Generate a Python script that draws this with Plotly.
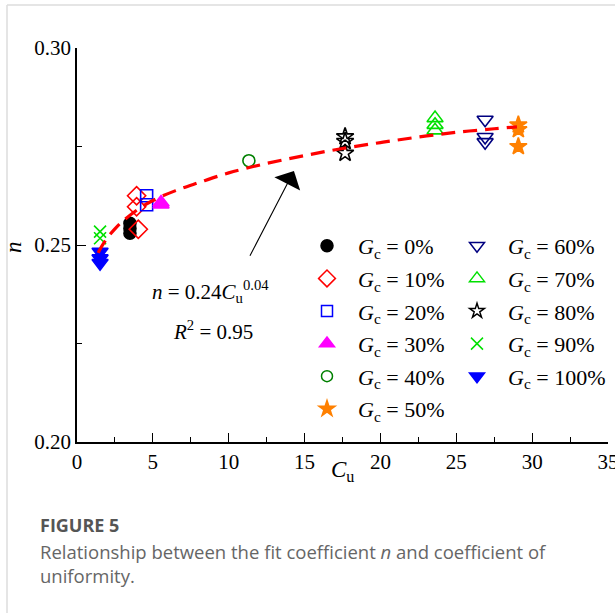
import plotly.graph_objects as go

# ---------------- data ----------------
cu_gc0 = [3.49, 3.49, 3.49]
n_gc0 = [0.2555, 0.2542, 0.2530]
cu_gc10 = [3.93, 3.93, 4.04]
n_gc10 = [0.2625, 0.2597, 0.2540]
cu_gc20 = [4.59, 4.59]
n_gc20 = [0.2625, 0.2602]
cu_gc30 = [5.54, 5.54]
n_gc30 = [0.2608, 0.2603]
cu_gc40 = [11.33]
n_gc40 = [0.2714]
cu_gc50 = [29.09, 29.09, 29.09]
n_gc50 = [0.2805, 0.2793, 0.2750]
cu_gc60 = [26.9, 26.9, 26.9]
n_gc60 = [0.2818, 0.2774, 0.2761]
cu_gc70 = [23.6, 23.6, 23.6]
n_gc70 = [0.2822, 0.2805, 0.2791]
cu_gc80 = [17.67, 17.67, 17.67]
n_gc80 = [0.2775, 0.2763, 0.2733]
cu_gc90 = [1.52, 1.52]
n_gc90 = [0.2534, 0.2517]
cu_gc100 = [1.52, 1.52, 1.52]
n_gc100 = [0.2483, 0.2466, 0.2454]

# fitted curve, points
fit_cu = [1.4, 1.5, 2.0, 2.5, 3.0, 4.0, 5.0, 6.5, 8.0, 10.0, 12.5, 15.0, 17.5, 20.0, 22.5, 25.0, 27.5, 29.0]
fit_n = [0.2480, 0.2488, 0.2518, 0.2541, 0.2560, 0.2590, 0.2613, 0.2638, 0.2658, 0.2683,
         0.2707, 0.2727, 0.2745, 0.2760, 0.2774, 0.2786, 0.2795, 0.2800]

gc_labels = ["0%", "10%", "20%", "30%", "40%", "50%", "60%", "70%", "80%", "90%", "100%"]
x_ticks = [0, 5, 10, 15, 20, 25, 30, 35]
y_ticks = [0.20, 0.25, 0.30]

# ---------------- layout helpers ----------------
W, H = 615, 613
L, R, T, B = 77, 7, 48, 171
PW, PH = W - L - R, H - T - B


def px_x(px):
    return (px - L) / PW


def px_y(py):
    return (H - B - py) / PH


SERIF = "Liberation Serif, Times New Roman, serif"

styles = [
    dict(symbol="circle", color="#000000", size=12, lsize=12),
    dict(symbol="diamond-open", color="#FF0000", size=14, lsize=13),
    dict(symbol="square-open", color="#0000FF", size=12, lsize=11),
    dict(symbol="triangle-up", color="#FF00FF", size=14, lsize=13),
    dict(symbol="circle-open", color="#008000", size=12, lsize=11),
    dict(symbol="star", color="#FF8000", size=13, lsize=12),
    dict(symbol="triangle-down-open", color="#000080", size=14, lsize=13),
    dict(symbol="triangle-up-open", color="#00E000", size=14, lsize=13),
    dict(symbol="star-open", color="#000000", size=13, lsize=11),
    dict(symbol="x-thin-open", color="#00E000", size=12, lsize=12),
    dict(symbol="triangle-down", color="#0000FF", size=14, lsize=13),
]

series_x = [cu_gc0, cu_gc10, cu_gc20, cu_gc30, cu_gc40, cu_gc50,
            cu_gc60, cu_gc70, cu_gc80, cu_gc90, cu_gc100]
series_y = [n_gc0, n_gc10, n_gc20, n_gc30, n_gc40, n_gc50,
            n_gc60, n_gc70, n_gc80, n_gc90, n_gc100]

fig = go.Figure()

for i, (xs, ys, st, lab) in enumerate(zip(series_x, series_y, styles, gc_labels)):
    fig.add_trace(go.Scatter(
        x=xs, y=ys, mode="markers", showlegend=False,
        name="Gc = " + lab, legendgroup="g%d" % i,
        marker=dict(symbol=st["symbol"], color=st["color"], size=st["size"],
                    line=dict(color=st["color"], width=1.6)),
    ))

fig.add_trace(go.Scatter(
    x=fit_cu, y=fit_n, mode="lines", line_shape="spline", showlegend=False,
    line=dict(color="#FF0000", width=3.2, dash="14px,8px"),
))

# legend keys (smaller symbols, as in the reference legend)
for i, (st, lab) in enumerate(zip(styles, gc_labels)):
    fig.add_trace(go.Scatter(
        x=[None], y=[None], mode="markers",
        name="\u00a0\u00a0<i>G</i><sub>c</sub> = " + lab,
        legend="legend" if i < 6 else "legend2",
        legendgroup="g%d" % i,
        marker=dict(symbol=st["symbol"], color=st["color"], size=st["lsize"],
                    line=dict(color=st["color"], width=1.5)),
    ))

annotations = [
    dict(x=14.3, y=0.2688, ax=11.35, ay=0.2469, xref="x", yref="y", axref="x", ayref="y",
         showarrow=True, arrowhead=1, arrowsize=4.4, arrowwidth=1.1, arrowcolor="#000000", text=""),
    dict(x=8.8, y=0.2383, xref="x", yref="y", showarrow=False,
         text="<i>n</i> = 0.24<i>C</i><sub>u</sub><sup>0.04</sup>",
         font=dict(family=SERIF, size=21, color="#000000")),
    dict(x=8.97, y=0.2284, xref="x", yref="y", showarrow=False,
         text="<i>R</i><sup>2</sup> = 0.95",
         font=dict(family=SERIF, size=21, color="#000000")),
    dict(x=0.5, y=px_y(471), xref="paper", yref="paper", xanchor="center", yanchor="middle",
         showarrow=False, text="<i>C</i><sub>u</sub>",
         font=dict(family=SERIF, size=23, color="#000000")),
    dict(x=px_x(13), y=px_y(247), xref="paper", yref="paper", xanchor="center", yanchor="middle",
         showarrow=False, text="<i>n</i>", textangle=-90,
         font=dict(family=SERIF, size=23, color="#000000")),
    dict(x=px_x(38), y=px_y(525), xref="paper", yref="paper", xanchor="left", yanchor="middle",
         showarrow=False, text="<b>FIGURE 5</b>",
         font=dict(family="Open Sans", size=18, color="#555555")),
    dict(x=px_x(38), y=px_y(551), xref="paper", yref="paper", xanchor="left", yanchor="middle",
         showarrow=False, text="Relationship between the fit coefficient <i>n</i> and coefficient of",
         font=dict(family="Open Sans", size=18.5, color="#666666")),
    dict(x=px_x(38), y=px_y(575), xref="paper", yref="paper", xanchor="left", yanchor="middle",
         showarrow=False, text="uniformity.",
         font=dict(family="Open Sans", size=18.5, color="#666666")),
]

shapes = [
    dict(type="line", xref="paper", yref="paper", x0=px_x(7), x1=px_x(615), y0=px_y(5), y1=px_y(5),
         line=dict(color="#DDDDDD", width=1.5)),
    dict(type="line", xref="paper", yref="paper", x0=px_x(7), x1=px_x(7), y0=px_y(5), y1=px_y(613),
         line=dict(color="#DDDDDD", width=1.5)),
]

legend_common = dict(
    xref="container", yref="container", xanchor="left", yanchor="top",
    font=dict(family=SERIF, size=22, color="#000000"),
    bgcolor="rgba(0,0,0,0)", borderwidth=0, tracegroupgap=1, itemwidth=30,
)

fig.update_layout(
    width=W, height=H,
    margin=dict(l=L, r=R, t=T, b=B, autoexpand=False),
    paper_bgcolor="white", plot_bgcolor="white",
    font=dict(family=SERIF, size=21, color="#000000"),
    showlegend=True,
    legend=dict(x=307 / W, y=1 - 225 / H, **legend_common),
    legend2=dict(x=457 / W, y=1 - 225 / H, **legend_common),
    annotations=annotations,
    shapes=shapes,
    xaxis=dict(
        range=[0, 35], tickvals=x_ticks, ticktext=[str(v) for v in x_ticks],
        showgrid=False, zeroline=False, showline=True, linecolor="#000000", linewidth=1.5,
        ticks="inside", ticklen=9, tickwidth=1.3, tickcolor="#000000",
        minor=dict(dtick=2.5, tick0=0, ticks="inside", ticklen=5, tickwidth=1.2, tickcolor="#000000", showgrid=False),
        tickfont=dict(family=SERIF, size=21), ticklabeloverflow="allow",
        automargin=False,
    ),
    yaxis=dict(
        range=[0.20, 0.30], tickvals=y_ticks, ticktext=["%.2f" % v for v in y_ticks],
        showgrid=False, zeroline=False, showline=True, linecolor="#000000", linewidth=1.5,
        ticks="inside", ticklen=9, tickwidth=1.3, tickcolor="#000000",
        minor=dict(dtick=0.025, tick0=0.2, ticks="inside", ticklen=5, tickwidth=1.2, tickcolor="#000000", showgrid=False),
        tickfont=dict(family=SERIF, size=21), ticklabeloverflow="allow",
        automargin=False,
    ),
)

fig.write_html("out.html", config={"displayModeBar": False},
               post_script="document.body.style.margin='0';document.body.style.overflow='hidden';")
